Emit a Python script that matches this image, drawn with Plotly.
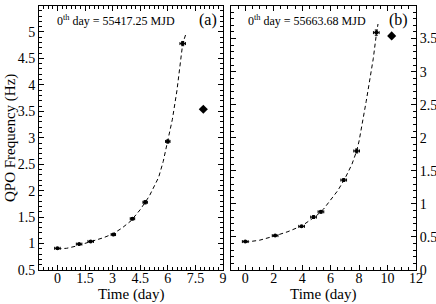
import plotly.graph_objects as go

# Panel (a) data
a_t = [0.0, 1.18, 1.81, 3.04, 4.08, 4.77, 6.0, 6.81]
a_f = [0.91, 0.99, 1.04, 1.17, 1.47, 1.78, 2.93, 4.78]
a_terr = [0.15, 0.15, 0.15, 0.12, 0.12, 0.12, 0.12, 0.15]
a_ferr = [0.01, 0.01, 0.01, 0.02, 0.02, 0.03, 0.03, 0.04]
a_dia_t = [7.93]
a_dia_f = [3.54]
a_fit_t = [0.0, 0.5, 1.0, 1.5, 2.0, 2.5, 3.0, 3.5, 4.0, 4.5, 5.0, 5.5, 5.75, 6.0, 6.25, 6.5, 6.81, 6.99]
a_fit_f = [0.90, 0.91, 0.95, 1.00, 1.05, 1.11, 1.18, 1.29, 1.43, 1.64, 1.90, 2.25, 2.55, 2.93, 3.35, 3.9, 4.78, 4.97]

# Panel (b) data
b_t = [0.0, 2.1, 3.96, 4.8, 5.32, 6.92, 7.83, 9.21]
b_f = [0.43, 0.52, 0.66, 0.80, 0.88, 1.36, 1.80, 3.59]
b_terr = [0.2, 0.2, 0.2, 0.2, 0.2, 0.2, 0.2, 0.2]
b_ferr = [0.01, 0.01, 0.01, 0.02, 0.02, 0.02, 0.03, 0.04]
b_dia_t = [10.29]
b_dia_f = [3.54]
b_fit_t = [0.0, 1.0, 2.0, 3.0, 4.0, 5.0, 5.5, 6.0, 6.5, 7.0, 7.5, 7.83, 8.0, 8.5, 9.0, 9.21, 9.33]
b_fit_f = [0.42, 0.45, 0.51, 0.58, 0.67, 0.82, 0.92, 1.06, 1.20, 1.38, 1.60, 1.80, 1.95, 2.55, 3.2, 3.56, 3.72]

a_xticks = [0, 1.5, 3, 4.5, 6, 7.5, 9]
a_yticks = [0.5, 1, 1.5, 2, 2.5, 3, 3.5, 4, 4.5, 5, 5.5]
b_xticks = [0, 2, 4, 6, 8, 10, 12]
b_yticks = [0, 0.5, 1, 1.5, 2, 2.5, 3, 3.5, 4]

FONT = "Liberation Serif, Times New Roman, serif"
W, H = 436, 304

fig = go.Figure()

# Panel a
fig.add_trace(go.Scatter(x=a_fit_t, y=a_fit_f, mode="lines", line=dict(color="black", width=1, dash="4px,3px"),
                         xaxis="x", yaxis="y", showlegend=False, hoverinfo="skip"))
fig.add_trace(go.Scatter(x=a_t, y=a_f, mode="markers", marker=dict(color="black", size=4),
                         error_x=dict(type="data", array=a_terr, color="black", thickness=1, width=1.5),
                         error_y=dict(type="data", array=a_ferr, color="black", thickness=1, width=1.5),
                         xaxis="x", yaxis="y", showlegend=False))
fig.add_trace(go.Scatter(x=a_dia_t, y=a_dia_f, mode="markers", marker=dict(color="black", size=7, symbol="diamond"),
                         xaxis="x", yaxis="y", showlegend=False))

# Panel b
fig.add_trace(go.Scatter(x=b_fit_t, y=b_fit_f, mode="lines", line=dict(color="black", width=1, dash="4px,3px"),
                         xaxis="x2", yaxis="y2", showlegend=False, hoverinfo="skip"))
fig.add_trace(go.Scatter(x=b_t, y=b_f, mode="markers", marker=dict(color="black", size=4),
                         error_x=dict(type="data", array=b_terr, color="black", thickness=1, width=1.5),
                         error_y=dict(type="data", array=b_ferr, color="black", thickness=1, width=1.5),
                         xaxis="x2", yaxis="y2", showlegend=False))
fig.add_trace(go.Scatter(x=b_dia_t, y=b_dia_f, mode="markers", marker=dict(color="black", size=7, symbol="diamond"),
                         xaxis="x2", yaxis="y2", showlegend=False))

ydom = [1 - 270 / H, 1 - 5.5 / H]
tickfont = dict(family=FONT, size=14, color="black")
common = dict(showline=True, linecolor="black", linewidth=1, mirror="ticks", ticks="inside",
              ticklen=5, tickcolor="black", showgrid=False, zeroline=False, tickfont=tickfont,
              automargin=False)

fig.update_layout(
    width=W, height=H, margin=dict(l=0, r=0, t=0, b=0, autoexpand=False),
    paper_bgcolor="white", plot_bgcolor="white",
    font=dict(family=FONT, color="black"),
    xaxis=dict(domain=[39 / W, 223 / W], range=[-1, 9], tickvals=a_xticks, ticktext=[str(v) for v in a_xticks],
               minor=dict(dtick=0.25, tick0=0, ticks="inside", ticklen=3, tickcolor="black"),
               anchor="y", ticklabelstandoff=-5, **common),
    yaxis=dict(domain=ydom, range=[0.5, 5.5], tickvals=a_yticks, ticktext=[f"{v:g}" for v in a_yticks],
               minor=dict(dtick=0.1, tick0=0, ticks="inside", ticklen=3, tickcolor="black"),
               anchor="x", ticklabelstandoff=0, **common),
    xaxis2=dict(domain=[231 / W, 416 / W], range=[-1, 12], tickvals=b_xticks, ticktext=[str(v) for v in b_xticks],
                minor=dict(dtick=0.5, tick0=0, ticks="inside", ticklen=3, tickcolor="black"),
                anchor="y2", ticklabelstandoff=-5, **common),
    yaxis2=dict(domain=ydom, range=[0, 4], tickvals=b_yticks, ticktext=[f"{v:g}" for v in b_yticks],
                minor=dict(dtick=0.1, tick0=0, ticks="inside", ticklen=3, tickcolor="black"),
                side="right", anchor="x2", ticklabelstandoff=0, **common),
)

def ann(text, x, y, size, angle=0):
    fig.add_annotation(text=text, xref="paper", yref="paper", x=x / W, y=1 - y / H, showarrow=False,
                       xanchor="center", yanchor="middle", textangle=angle,
                       font=dict(family=FONT, size=size, color="black"))

ann("0<sup>th</sup> day = 55417.25 MJD", 116, 21, 12)
ann("(a)", 208, 20, 16)
ann("0<sup>th</sup> day = 55663.68 MJD", 307, 21, 12)
ann("(b)", 398, 20, 16)
ann("Time (day)", 131, 294, 15)
ann("Time (day)", 323, 294, 15)
ann("QPO Frequency (Hz)", 10, 138, 15, angle=-90)

fig.write_html("out.html", config={"displayModeBar": False},
               post_script="document.body.style.margin='0';document.body.style.overflow='hidden';")
